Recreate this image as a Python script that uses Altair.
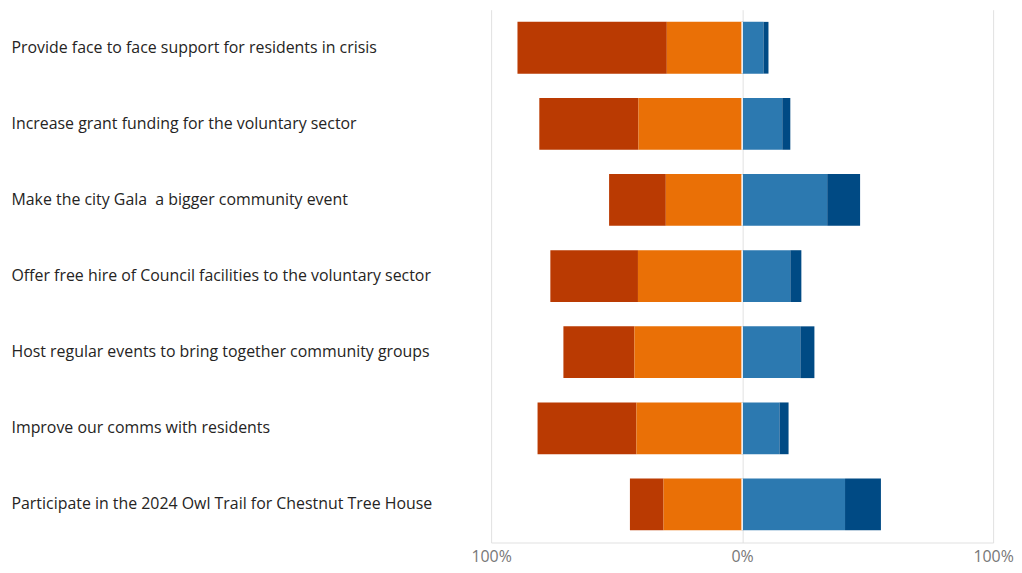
import altair as alt
import pandas as pd

categories = [
    "Provide face to face support for residents in crisis",
    "Increase grant funding for the voluntary sector",
    "Make the city Gala\u00a0 a bigger community event",
    "Offer free hire of Council facilities to the voluntary sector",
    "Host regular events to bring together community groups",
    "Improve our comms with residents",
    "Participate in the 2024 Owl Trail for Chestnut Tree House",
]
strong_neg = [59.5, 39.5, 22.6, 34.9, 28.3, 39.4, 13.4]
neg = [30.0, 41.3, 30.4, 41.5, 42.9, 42.1, 31.3]
pos = [8.5, 16.0, 33.9, 19.2, 23.2, 14.9, 41.0]
strong_pos = [2.0, 3.2, 13.1, 4.4, 5.6, 3.6, 14.3]

series = ["Strongly negative", "Negative", "Positive", "Strongly positive"]
colors = ["#BA3A02", "#EA7006", "#2C79B0", "#004A84"]
order_rank = {"Negative": 0, "Positive": 1, "Strongly negative": 2, "Strongly positive": 3}

rows = []
for i, c in enumerate(categories):
    for s, vals, sign in [
        ("Strongly negative", strong_neg, -1),
        ("Negative", neg, -1),
        ("Positive", pos, 1),
        ("Strongly positive", strong_pos, 1),
    ]:
        rows.append({"cat": c, "series": s, "value": sign * vals[i] / 100.0, "ord": order_rank[s]})
df = pd.DataFrame(rows)

y_enc = alt.Y(
    "cat:N",
    sort=categories,
    title=None,
    scale=alt.Scale(paddingInner=0.32, paddingOuter=0.16),
    axis=alt.Axis(
        labelAlign="left",
        labelPadding=483,
        ticks=False,
        domain=False,
        grid=False,
        labelFont="Open Sans",
        labelFontSize=16,
        labelColor="#252423",
        labelLimit=0,
    ),
)

bars = alt.Chart(df).mark_bar().encode(
    x=alt.X(
        "value:Q",
        stack="zero",
        scale=alt.Scale(domain=[-1, 1], nice=False),
        title=None,
        axis=alt.Axis(
            values=[-1, 0, 1],
            labelExpr="format(abs(datum.value), '.0%')",
            grid=True,
            gridColor="#E1E1E1",
            domainColor="#E1E1E1",
            ticks=False,
            labelFont="Open Sans",
            labelFontSize=16,
            labelColor="#777777",
            labelPadding=6,
            labelFlush=False,
        ),
    ),
    y=y_enc,
    color=alt.Color("series:N", scale=alt.Scale(domain=series, range=colors), legend=None),
    order=alt.Order("ord:Q"),
)

sep = alt.Chart(pd.DataFrame({"cat": categories, "zero": [0.0] * len(categories)})).mark_tick(
    color="white", thickness=1.5, size=52, opacity=1
).encode(x="zero:Q", y=alt.Y("cat:N", sort=categories))

chart = (
    alt.layer(bars, sep)
    .properties(width=505, height=536, padding={"left": 3, "top": 0, "right": 0, "bottom": 12})
    .configure_view(stroke=None)
)

chart.save("out.html", embed_options={"renderer": "svg", "actions": False})
